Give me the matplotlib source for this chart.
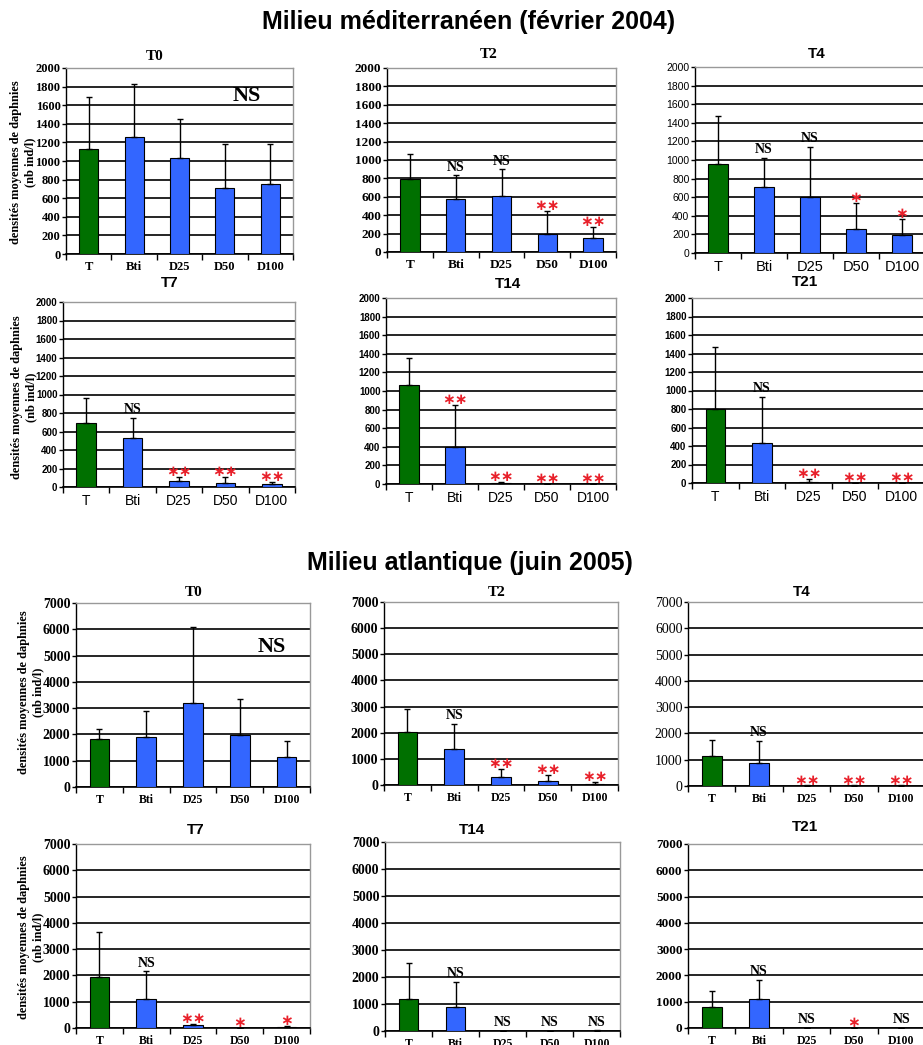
import matplotlib
matplotlib.use('Agg')
import matplotlib.pyplot as plt
import numpy as np

# ===================== données =====================
groups = ['T', 'Bti', 'D25', 'D50', 'D100']
times = ['T0', 'T2', 'T4', 'T7', 'T14', 'T21']

# Milieu méditerranéen (février 2004) : moyennes et écarts (barre d'erreur haute)
med_means = [
    [1125, 1255, 1035, 710, 755],
    [795, 575, 605, 195, 150],
    [960, 715, 605, 255, 195],
    [690, 530, 70, 45, 30],
    [1060, 400, 15, 0, 0],
    [805, 430, 15, 0, 0],
]
med_sd = [
    [560, 570, 420, 470, 425],
    [270, 260, 295, 255, 120],
    [515, 310, 540, 285, 175],
    [270, 215, 40, 60, 25],
    [300, 450, 10, 0, 0],
    [665, 500, 30, 0, 0],
]
med_sig = [
    ['', '', '', '', ''],
    ['', 'NS', 'NS', '**', '**'],
    ['', 'NS', 'NS', '*', '*'],
    ['', 'NS', '**', '**', '**'],
    ['', '**', '**', '**', '**'],
    ['', 'NS', '**', '**', '**'],
]

# Milieu atlantique (juin 2005)
atl_means = [
    [1810, 1920, 3180, 1970, 1145],
    [2020, 1370, 295, 140, 50],
    [1160, 890, 10, 15, 15],
    [1930, 1100, 110, 5, 40],
    [1170, 875, 5, 5, 15],
    [785, 1090, 0, 10, 0],
]
atl_sd = [
    [380, 980, 2900, 1360, 610],
    [890, 965, 330, 230, 65],
    [600, 840, 10, 5, 5],
    [1735, 1055, 55, 5, 40],
    [1345, 950, 5, 5, 10],
    [635, 750, 0, 0, 0],
]
atl_sig = [
    ['', '', '', '', ''],
    ['', 'NS', '**', '**', '**'],
    ['', 'NS', '**', '**', '**'],
    ['', 'NS', '**', '*', '*'],
    ['', 'NS', 'NS', 'NS', 'NS'],
    ['', 'NS', 'NS', '*', 'NS'],
]

ylabel = 'densités moyennes de daphnies\n(nb ind/l)'

# ===================== mise en page (pixels) =====================
W, H = 923, 1045
SERIF = 'Liberation Serif'
SANS = 'Liberation Sans'
GREEN = '#007000'
BLUE = '#3366ff'
RED = '#e8202a'

fig = plt.figure(figsize=(W / 100, H / 100), dpi=100)


def px_axes(l, t, r, b):
    return fig.add_axes([l / W, 1 - b / H, (r - l) / W, (b - t) / H])


def px_text(x, y, s, **kw):
    fig.text(x / W, 1 - y / H, s, **kw)


def draw_panel(box, means, sd, sig, ymax, ystep, ytick_font, xtick_font):
    ax = px_axes(*box)
    x = np.arange(len(groups))
    colors = [GREEN] + [BLUE] * (len(groups) - 1)
    ax.bar(x, means, width=0.42, color=colors, edgecolor='black', linewidth=0.8, zorder=3)
    ax.errorbar(x, means, yerr=[np.zeros(len(sd)), sd], fmt='none', ecolor='black',
                elinewidth=1, capsize=2.5, capthick=1, zorder=4)
    ax.set_xlim(-0.5, len(groups) - 0.5)
    ax.set_ylim(0, ymax)
    ax.set_yticks(np.arange(0, ymax + 1, ystep))
    ax.yaxis.grid(True, color='black', linewidth=1.2)
    ax.set_axisbelow(True)
    # ticks de catégories (style Excel)
    ax.set_xticks(x)
    ax.set_xticks(np.arange(-0.5, len(groups), 1), minor=True)
    ax.tick_params(axis='x', which='major', length=0, pad=5)
    ax.tick_params(axis='x', which='minor', length=4, width=1, color='black')
    ax.tick_params(axis='y', length=3, width=1, pad=1)
    fam, wt, sz = ytick_font
    ax.set_yticklabels([str(int(v)) for v in ax.get_yticks()], family=fam, weight=wt, fontsize=sz)
    fam, wt, sz = xtick_font
    ax.set_xticklabels(groups, family=fam, weight=wt, fontsize=sz)
    for s in ['top', 'right']:
        ax.spines[s].set_color('#999999')
        ax.spines[s].set_linewidth(1)
    ax.spines['left'].set_linewidth(1)
    ax.spines['bottom'].set_linewidth(1.2)
    # significativité
    for xi, m, e, s in zip(x, means, sd, sig):
        if not s:
            continue
        top = m + e
        if 'NS' in s:
            ax.text(xi, top + 0.025 * ymax, s, ha='center', va='baseline', family=SERIF,
                    weight='bold', fontsize=10, zorder=5)
        else:
            ax.text(xi, top + 0.005 * ymax, s.replace('*', '\u2217'), ha='center', va='baseline',
                    color=RED, family='DejaVu Sans', weight='bold', fontsize=11, zorder=5)
    return ax


# ---- Milieu méditerranéen ----
px_text(469, 22, 'Milieu méditerranéen (février 2004)', ha='center', va='center',
        family=SANS, weight='bold', fontsize=18)

med_boxes = [(66, 68, 293, 254), (387, 68, 616, 252), (695, 67, 925, 253),
             (63, 302, 295, 487), (386, 298, 616, 484), (692, 298, 925, 483)]
med_titles = [(155, 56), (489, 54), (817, 54), (170, 283), (508, 284), (805, 282)]
med_ytick = [(SERIF, 'bold', 9), (SERIF, 'bold', 9.5), (SANS, 'normal', 7.5),
             (SANS, 'bold', 7), (SANS, 'bold', 7), (SANS, 'bold', 7)]
med_xtick = [(SERIF, 'bold', 9), (SERIF, 'bold', 9.5), (SANS, 'normal', 10.5),
             (SANS, 'normal', 10), (SANS, 'normal', 10), (SANS, 'normal', 10)]
med_tfont = [SERIF, SERIF, SANS, SANS, SANS, SANS]

for i in range(6):
    draw_panel(med_boxes[i], med_means[i], med_sd[i], med_sig[i], 2000, 200,
               med_ytick[i], med_xtick[i])
    tx, ty = med_titles[i]
    px_text(tx, ty, times[i], ha='center', va='center', family=med_tfont[i],
            weight='bold', fontsize=11)

px_text(247, 96, 'NS', ha='center', va='center', family=SERIF, weight='bold', fontsize=16)
px_text(23, 162, ylabel, rotation=90, ha='center', va='center', multialignment='center',
        family=SERIF, weight='bold', fontsize=9)
px_text(24, 397, ylabel, rotation=90, ha='center', va='center', multialignment='center',
        family=SERIF, weight='bold', fontsize=9)

# ---- Milieu atlantique ----
px_text(470, 563, 'Milieu atlantique (juin 2005)', ha='center', va='center',
        family=SANS, weight='bold', fontsize=18)

atl_boxes = [(76, 603, 310, 787), (384, 602, 618, 785), (688, 602, 925, 786),
             (76, 844, 310, 1028), (385, 842, 620, 1031), (688, 844, 925, 1028)]
atl_titles = [(194, 593), (497, 592), (802, 592), (196, 830), (472, 830), (805, 827)]
atl_ytick = [(SERIF, 'bold', 10), (SERIF, 'bold', 10), (SERIF, 'normal', 10),
             (SERIF, 'bold', 10), (SERIF, 'bold', 10), (SERIF, 'bold', 9.5)]
atl_xtick = [(SERIF, 'bold', 8.5)] * 6
atl_tfont = [SERIF, SERIF, SANS, SANS, SANS, SANS]

for i in range(6):
    draw_panel(atl_boxes[i], atl_means[i], atl_sd[i], atl_sig[i], 7000, 1000,
               atl_ytick[i], atl_xtick[i])
    tx, ty = atl_titles[i]
    px_text(tx, ty, times[i], ha='center', va='center', family=atl_tfont[i],
            weight='bold', fontsize=11)

px_text(272, 647, 'NS', ha='center', va='center', family=SERIF, weight='bold', fontsize=16)
px_text(31, 692, ylabel, rotation=90, ha='center', va='center', multialignment='center',
        family=SERIF, weight='bold', fontsize=9)
px_text(31, 937, ylabel, rotation=90, ha='center', va='center', multialignment='center',
        family=SERIF, weight='bold', fontsize=9)

fig.savefig('out.png', dpi=100)
